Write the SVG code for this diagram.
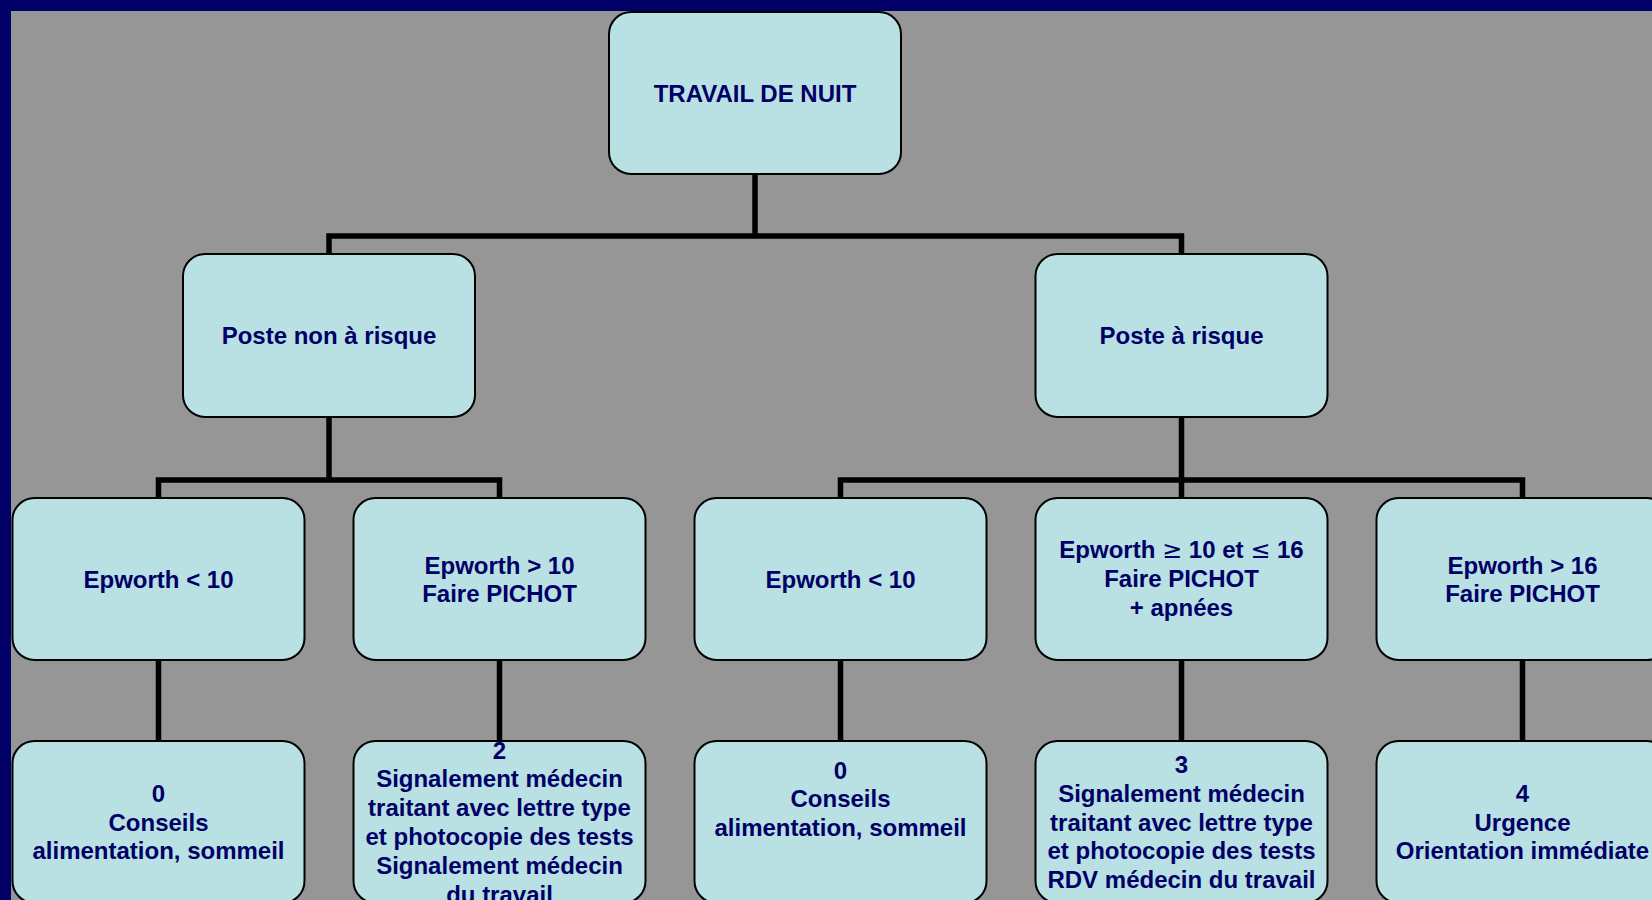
<svg xmlns="http://www.w3.org/2000/svg" width="1652" height="900" viewBox="0 0 1652 900">
  <style>
    .box { fill: #B9E0E3; stroke: #000000; stroke-width: 2; }
    .lbl { font-family: "Liberation Sans", Arial, sans-serif; font-weight: bold; font-size: 24px; fill: #000066; text-anchor: middle; }
    .sym { font-family: "DejaVu Sans", sans-serif; font-weight: normal; }
    .conn { fill: none; stroke: #000000; stroke-width: 5.5; stroke-linejoin: miter; stroke-linecap: butt; }
  </style>
  <rect x="0" y="0" width="1652" height="900" fill="#000066"/>
  <rect x="11" y="11" width="1641" height="889" fill="#969696"/>

  <g id="connectors">
    <path class="conn" d="M755,174 V236"/>
    <path class="conn" d="M329,254 V236 H1181.5 V254"/>
    <path class="conn" d="M329,417 V480"/>
    <path class="conn" d="M158.5,498 V480 H499.5 V498"/>
    <path class="conn" d="M1181.5,417 V498"/>
    <path class="conn" d="M840.5,498 V480 H1522.5 V498"/>
    <path class="conn" d="M158.5,660 V741"/>
    <path class="conn" d="M499.5,660 V741"/>
    <path class="conn" d="M840.5,660 V741"/>
    <path class="conn" d="M1181.5,660 V741"/>
    <path class="conn" d="M1522.5,660 V741"/>
  </g>

  <g id="node-root">
    <rect class="box" x="609" y="12" width="292" height="162" rx="22"/>
    <text class="lbl" x="755" y="101.5">TRAVAIL DE NUIT</text>
  </g>

  <g id="node-poste-non-risque">
    <rect class="box" x="183" y="254" width="292" height="163" rx="22"/>
    <text class="lbl" x="329" y="344">Poste non à risque</text>
  </g>

  <g id="node-poste-risque">
    <rect class="box" x="1035.5" y="254" width="292" height="163" rx="22"/>
    <text class="lbl" x="1181.5" y="344">Poste à risque</text>
  </g>

  <g id="node-a3">
    <rect class="box" x="12.5" y="498" width="292" height="162" rx="22"/>
    <text class="lbl" x="158.5" y="588">Epworth &lt; 10</text>
  </g>

  <g id="node-b3">
    <rect class="box" x="353.5" y="498" width="292" height="162" rx="22"/>
    <text class="lbl"><tspan x="499.5" y="573.5">Epworth &gt; 10</tspan><tspan x="499.5" y="602.3">Faire PICHOT</tspan></text>
  </g>

  <g id="node-c3">
    <rect class="box" x="694.5" y="498" width="292" height="162" rx="22"/>
    <text class="lbl" x="840.5" y="588">Epworth &lt; 10</text>
  </g>

  <g id="node-d3">
    <rect class="box" x="1035.5" y="498" width="292" height="162" rx="22"/>
    <text class="lbl"><tspan x="1181.5" y="557.5">Epworth <tspan class="sym">≥</tspan> 10 et <tspan class="sym">≤</tspan> 16</tspan><tspan x="1181.5" y="586.8">Faire PICHOT</tspan><tspan x="1181.5" y="615.6">+ apnées</tspan></text>
  </g>

  <g id="node-e3">
    <rect class="box" x="1376.5" y="498" width="292" height="162" rx="22"/>
    <text class="lbl"><tspan x="1522.5" y="573.5">Epworth &gt; 16</tspan><tspan x="1522.5" y="602.3">Faire PICHOT</tspan></text>
  </g>

  <g id="node-a4">
    <rect class="box" x="12.5" y="741" width="292" height="162" rx="22"/>
    <text class="lbl"><tspan x="158.5" y="802">0</tspan><tspan x="158.5" y="830.8">Conseils</tspan><tspan x="158.5" y="859.2">alimentation, sommeil</tspan></text>
  </g>

  <g id="node-b4">
    <rect class="box" x="353.5" y="741" width="292" height="162" rx="22"/>
    <text class="lbl"><tspan x="499.5" y="758.5">2</tspan><tspan x="499.5" y="787.3">Signalement médecin</tspan><tspan x="499.5" y="816.1">traitant avec lettre type</tspan><tspan x="499.5" y="844.9">et photocopie des tests</tspan><tspan x="499.5" y="873.7">Signalement médecin</tspan><tspan x="499.5" y="902.5">du travail</tspan></text>
  </g>

  <g id="node-c4">
    <rect class="box" x="694.5" y="741" width="292" height="162" rx="22"/>
    <text class="lbl"><tspan x="840.5" y="778.5">0</tspan><tspan x="840.5" y="807.3">Conseils</tspan><tspan x="840.5" y="836.1">alimentation, sommeil</tspan></text>
  </g>

  <g id="node-d4">
    <rect class="box" x="1035.5" y="741" width="292" height="162" rx="22"/>
    <text class="lbl"><tspan x="1181.5" y="773">3</tspan><tspan x="1181.5" y="801.8">Signalement médecin</tspan><tspan x="1181.5" y="830.6">traitant avec lettre type</tspan><tspan x="1181.5" y="859.4">et photocopie des tests</tspan><tspan x="1181.5" y="888.2">RDV médecin du travail</tspan></text>
  </g>

  <g id="node-e4">
    <rect class="box" x="1376.5" y="741" width="292" height="162" rx="22"/>
    <text class="lbl"><tspan x="1522.5" y="802">4</tspan><tspan x="1522.5" y="830.8">Urgence</tspan><tspan x="1522.5" y="859.2">Orientation immédiate</tspan></text>
  </g>
</svg>
